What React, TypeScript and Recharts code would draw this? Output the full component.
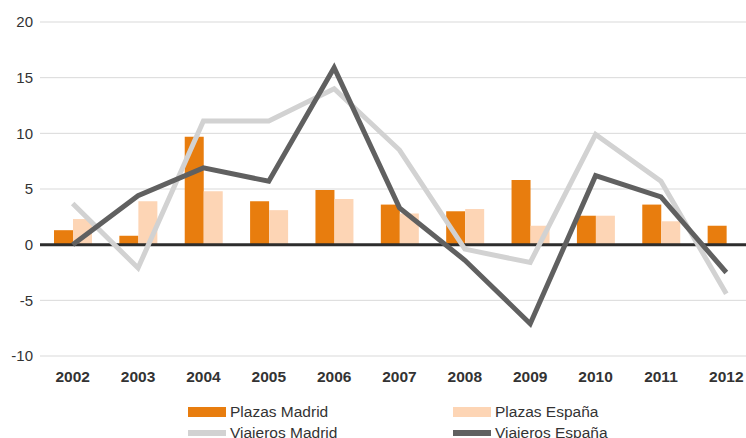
import React from 'react'
import { ComposedChart, Bar, Line, XAxis, YAxis, CartesianGrid, ReferenceLine, Legend } from 'recharts'

// Variación anual (%) — plazas y viajeros, Madrid vs España
const years = ['2002', '2003', '2004', '2005', '2006', '2007', '2008', '2009', '2010', '2011', '2012']
const plazasMadrid = [1.3, 0.8, 9.7, 3.9, 4.9, 3.6, 3.0, 5.8, 2.6, 3.6, 1.7]
const plazasEspana = [2.3, 3.9, 4.8, 3.1, 4.1, 2.8, 3.2, 1.7, 2.6, 2.1, null]
const viajerosMadrid = [3.7, -2.1, 11.1, 11.1, 14.0, 8.5, -0.4, -1.6, 9.9, 5.7, -4.4]
const viajerosEspana = [0, 4.4, 6.9, 5.7, 15.9, 3.3, -1.4, -7.1, 6.2, 4.3, -2.5]
const yTicks = [-10, -5, 0, 5, 10, 15, 20]

const data = years.map((year, i) => ({
  year,
  plazasMadrid: plazasMadrid[i],
  plazasEspana: plazasEspana[i],
  viajerosMadrid: viajerosMadrid[i],
  viajerosEspana: viajerosEspana[i],
}))

const orange = '#e87d0e'
const peach = '#fdd5b5'
const lightGray = '#d2d2d2'
const darkGray = '#606060'
const textColor = '#333333'
const font = '"Liberation Sans", Arial, Helvetica, sans-serif'

// legend in two columns, reading order as in the original
const legendOrder = ['Plazas Madrid', 'Plazas España', 'Viajeros Madrid', 'Viajeros España']

function renderLegend(props: any) {
  const items = [...(props.payload || [])].sort(
    (a: any, b: any) => legendOrder.indexOf(a.value) - legendOrder.indexOf(b.value)
  )
  return (
    <div
      style={{
        height: 50,
        display: 'grid',
        gridTemplateColumns: '265px 265px',
        gridAutoRows: '21px',
        paddingLeft: 188,
        paddingTop: 13,
        boxSizing: 'border-box',
        fontFamily: font,
        fontSize: 15.5,
        color: textColor,
      }}
    >
      {items.map((item: any) => (
        <div key={item.value} style={{ display: 'flex', alignItems: 'center', lineHeight: '21px' }}>
          <span
            style={{
              display: 'inline-block',
              width: 38,
              height: item.type === 'rect' ? 10 : 6,
              background: item.color,
              marginRight: 4,
            }}
          />
          <span>{item.value}</span>
        </div>
      ))}
    </div>
  )
}

export default function App() {
  return (
    <div style={{ position: 'absolute', left: 0, top: 0, width: 746, height: 438, overflow: 'hidden', background: '#fff' }}>
      <ComposedChart
        width={760}
        height={438}
        data={data}
        margin={{ top: 22, right: 1, bottom: 0, left: 0 }}
        barGap={0}
        style={{ fontFamily: font }}
      >
        <CartesianGrid vertical={false} stroke="#d9d9d9" strokeWidth={1} />
        <XAxis
          dataKey="year"
          axisLine={false}
          tickLine={false}
          height={32}
          tickMargin={9}
          interval={0}
          tick={{ fill: textColor, fontSize: 15.5, fontWeight: 'bold', fontFamily: font }}
        />
        <YAxis
          domain={[-10, 20]}
          ticks={yTicks}
          axisLine={false}
          tickLine={false}
          width={40}
          tickMargin={1}
          interval={0}
          tick={{ fill: textColor, fontSize: 15, fontFamily: font }}
        />
        <Legend verticalAlign="bottom" content={renderLegend} />
        <Bar dataKey="plazasMadrid" name="Plazas Madrid" fill={orange} barSize={19} legendType="rect" isAnimationActive={false} />
        <Bar dataKey="plazasEspana" name="Plazas España" fill={peach} barSize={19} legendType="rect" isAnimationActive={false} />
        <ReferenceLine y={0} stroke="#2d2d2d" strokeWidth={3} />
        <Line
          dataKey="viajerosMadrid"
          name="Viajeros Madrid"
          stroke={lightGray}
          strokeWidth={5}
          strokeLinejoin="miter"
          strokeLinecap="butt"
          dot={false}
          activeDot={false}
          legendType="line"
          isAnimationActive={false}
        />
        <Line
          dataKey="viajerosEspana"
          name="Viajeros España"
          stroke={darkGray}
          strokeWidth={5}
          strokeLinejoin="miter"
          strokeLinecap="butt"
          dot={false}
          activeDot={false}
          legendType="line"
          isAnimationActive={false}
        />
      </ComposedChart>
    </div>
  )
}
